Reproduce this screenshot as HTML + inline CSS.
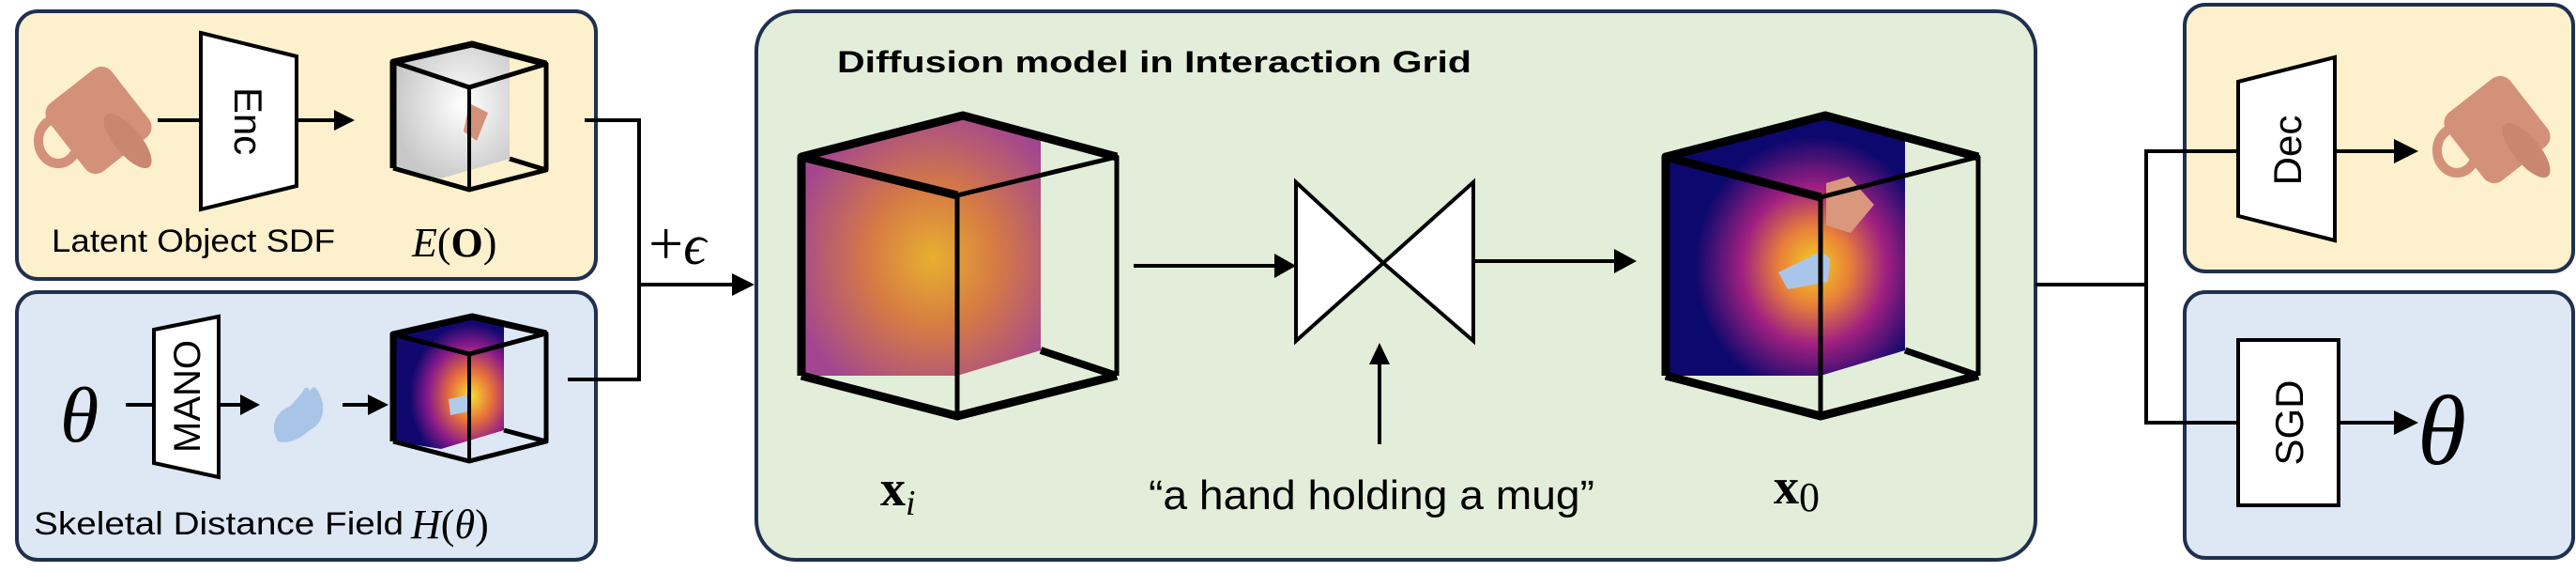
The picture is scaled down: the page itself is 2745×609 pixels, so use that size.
<!DOCTYPE html>
<html><head><meta charset="utf-8"><style>
html,body{margin:0;padding:0;background:#fff;}
svg{display:block;}
text{font-family:"Liberation Sans",sans-serif;}
.s{font-family:"Liberation Serif",serif;}
</style></head><body>
<svg width="2745" height="609" viewBox="0 0 2745 609" xmlns="http://www.w3.org/2000/svg">
<defs>
<radialGradient id="gn" cx="0.55" cy="0.55" r="0.6">
<stop offset="0" stop-color="#e8b030"/><stop offset="0.45" stop-color="#d57a45"/><stop offset="1" stop-color="#a2478f"/>
</radialGradient>
<radialGradient id="g0" cx="0.62" cy="0.58" r="0.5">
<stop offset="0" stop-color="#f5d020"/><stop offset="0.3" stop-color="#e8803a"/><stop offset="0.6" stop-color="#a02080"/><stop offset="1" stop-color="#0c086e"/>
</radialGradient>
<radialGradient id="gh" cx="0.7" cy="0.6" r="0.55">
<stop offset="0" stop-color="#f7e030"/><stop offset="0.35" stop-color="#e8703c"/><stop offset="0.7" stop-color="#8a1a8a"/><stop offset="1" stop-color="#10086e"/>
</radialGradient>
<radialGradient id="gg" cx="0.6" cy="0.45" r="0.6">
<stop offset="0" stop-color="#ffffff"/><stop offset="1" stop-color="#c8c8c8"/>
</radialGradient>
<g id="mug">
<ellipse cx="62" cy="150" rx="21" ry="24" fill="none" stroke="#d4917a" stroke-width="10"/>
<rect x="62" y="82" width="86" height="92" rx="14" transform="rotate(-38 105 128)" fill="#d4917a"/>
<ellipse cx="136" cy="150" rx="14" ry="36" transform="rotate(-40 136 150)" fill="#c98670"/>
</g>
</defs>

<!-- boxes -->
<rect x="18" y="12" width="617" height="285" rx="22" fill="#fdf0cc" stroke="#1f3050" stroke-width="4"/>
<rect x="18" y="311" width="617" height="285" rx="22" fill="#dde8f4" stroke="#1f3050" stroke-width="4"/>
<rect x="806" y="12" width="1363" height="584" rx="42" fill="#e2eed9" stroke="#1f3050" stroke-width="4"/>
<rect x="2328" y="5" width="414" height="284" rx="22" fill="#fdf0cc" stroke="#1f3050" stroke-width="4"/>
<rect x="2328" y="311" width="414" height="283" rx="22" fill="#dde8f4" stroke="#1f3050" stroke-width="4"/>

<!-- top-left -->
<use href="#mug"/>
<line x1="168" y1="128" x2="216" y2="128" stroke="#000" stroke-width="4"/>
<polygon points="214,35 316,60 316,198 214,223" fill="#fff" stroke="#000" stroke-width="4"/>
<text x="0" y="0" font-size="42" transform="translate(250,129) rotate(90)" text-anchor="middle">Enc</text>
<line x1="316" y1="128" x2="358" y2="128" stroke="#000" stroke-width="4"/>
<polygon points="356,117 378,128 356,139" fill="#000"/>
<!-- cube1 -->
<polygon points="419,66 503,47 543,58 543,169 470,190 419,179" fill="url(#gg)"/>
<polygon points="500,110 520,120 508,150 494,140" fill="#d4917a"/>
<g stroke="#000" fill="none" stroke-linejoin="round">
<polyline points="419,179 419,66 503,47 582,68" stroke-width="7"/>
<polyline points="419,66 500,93 582,68 582,181 500,202 419,179" stroke-width="5"/>
<line x1="500" y1="93" x2="500" y2="202" stroke-width="4"/>
<line x1="543" y1="169" x2="582" y2="181" stroke-width="5"/>
</g>
<text x="55" y="268" font-size="34" textLength="302" lengthAdjust="spacingAndGlyphs">Latent Object SDF</text>
<text x="439" y="273" font-size="44" class="s"><tspan font-style="italic">E</tspan>(<tspan font-weight="bold">O</tspan>)</text>

<!-- bottom-left -->
<text x="64" y="470" font-size="84" class="s" font-style="italic">θ</text>
<line x1="134" y1="431" x2="166" y2="431" stroke="#000" stroke-width="4"/>
<polygon points="164,351 233,337 233,508 164,493" fill="#fff" stroke="#000" stroke-width="4"/>
<text x="0" y="0" font-size="40" transform="translate(213,422) rotate(-90)" text-anchor="middle">MANO</text>
<line x1="233" y1="431" x2="258" y2="431" stroke="#000" stroke-width="4"/>
<polygon points="256,420 277,431 256,442" fill="#000"/>
<path d="M292,460 Q290,440 310,432 L322,418 Q326,408 330,416 L334,412 Q340,414 344,430 Q346,450 330,458 Q312,474 296,470 Z" fill="#a8c4e6"/>
<line x1="365" y1="431" x2="394" y2="431" stroke="#000" stroke-width="4"/>
<polygon points="392,420 414,431 392,442" fill="#000"/>
<polygon points="419,356 503,337 537,345 537,458 470,478 419,470" fill="url(#gh)"/>
<polygon points="478,425 502,420 500,438 480,442" fill="#b0cbeb"/>
<g stroke="#000" fill="none" stroke-linejoin="round">
<polyline points="419,470 419,356 503,337 582,355" stroke-width="7"/>
<polyline points="419,356 500,377 582,355 582,470 500,491 419,470" stroke-width="5"/>
<line x1="500" y1="377" x2="500" y2="491" stroke-width="4"/>
<line x1="537" y1="458" x2="582" y2="470" stroke-width="5"/>
</g>
<text x="36" y="569" font-size="34" textLength="394" lengthAdjust="spacingAndGlyphs">Skeletal Distance Field</text>
<text x="438" y="573" font-size="44" class="s"><tspan font-style="italic">H</tspan>(<tspan font-style="italic">θ</tspan>)</text>

<!-- merge connectors -->
<polyline points="623,128 681,128 681,404 605,404" fill="none" stroke="#000" stroke-width="4"/>
<line x1="681" y1="303" x2="782" y2="303" stroke="#000" stroke-width="4"/>
<polygon points="780,291 804,303 780,315" fill="#000"/>
<text x="691" y="281" font-size="66" class="s">+<tspan font-style="italic" font-size="60">ϵ</tspan></text>

<!-- green content -->
<text x="892" y="77" font-size="32" font-weight="bold" textLength="676" lengthAdjust="spacingAndGlyphs">Diffusion model in Interaction Grid</text>
<!-- xi cube -->
<polygon points="854,167 1026,123 1109,145 1109,373 1020,400 854,400" fill="url(#gn)"/>
<g stroke="#000" fill="none" stroke-linejoin="round">
<polyline points="854,400 854,167 1026,123 1190,167" stroke-width="9"/>
<polyline points="854,167 1020,208" stroke-width="9"/>
<polyline points="1020,208 1190,167 1190,400" stroke-width="5"/>
<polyline points="854,400 1020,443 1190,400" stroke-width="9"/>
<line x1="1020" y1="208" x2="1020" y2="443" stroke-width="5"/>
<line x1="1109" y1="373" x2="1190" y2="400" stroke-width="8"/>
</g>
<text x="938" y="538" font-size="54" class="s" font-weight="bold">x<tspan font-size="38" font-style="italic" font-weight="normal" dy="10">i</tspan></text>
<!-- arrow to bowtie -->
<line x1="1208" y1="283" x2="1360" y2="283" stroke="#000" stroke-width="4"/>
<polygon points="1358,270 1381,283 1358,296" fill="#000"/>
<polygon points="1381,194 1381,363 1474,280" fill="#fff" stroke="#000" stroke-width="4" stroke-linejoin="miter"/>
<polygon points="1570,194 1570,363 1474,280" fill="#fff" stroke="#000" stroke-width="4"/>
<line x1="1570" y1="278" x2="1722" y2="278" stroke="#000" stroke-width="4"/>
<polygon points="1720,265 1744,278 1720,291" fill="#000"/>
<line x1="1470" y1="473" x2="1470" y2="385" stroke="#000" stroke-width="4"/>
<polygon points="1459,388 1470,365 1481,388" fill="#000"/>
<text x="1224" y="542" font-size="44" textLength="475" lengthAdjust="spacingAndGlyphs">“a hand holding a mug”</text>
<!-- x0 cube -->
<polygon points="1775,167 1945,123 2030,146 2030,373 1940,400 1775,400" fill="url(#g0)"/>
<polygon points="1946,195 1970,188 1997,218 1972,248 1946,240" fill="#d9977d"/>
<path d="M1895,290 L1940,268 L1950,275 L1948,300 L1905,308 Z" fill="#a9c6ea"/>
<g stroke="#000" fill="none" stroke-linejoin="round">
<polyline points="1775,400 1775,167 1945,123 2108,167" stroke-width="9"/>
<polyline points="1775,167 1940,210" stroke-width="9"/>
<polyline points="1940,210 2108,167 2108,400" stroke-width="5"/>
<polyline points="1775,400 1940,443 2108,400" stroke-width="9"/>
<line x1="1940" y1="210" x2="1940" y2="443" stroke-width="5"/>
<line x1="2030" y1="373" x2="2108" y2="400" stroke-width="7"/>
</g>
<text x="1890" y="536" font-size="54" class="s" font-weight="bold">x<tspan font-size="44" font-weight="normal" dy="8">0</tspan></text>

<!-- right connectors -->
<line x1="2169" y1="303" x2="2287" y2="303" stroke="#000" stroke-width="4"/>
<polyline points="2387,161 2287,161 2287,450 2387,450" fill="none" stroke="#000" stroke-width="4"/>
<polygon points="2385,87 2488,61 2488,256 2385,230" fill="#fff" stroke="#000" stroke-width="4"/>
<text x="0" y="0" font-size="42" transform="translate(2452,160) rotate(-90)" text-anchor="middle">Dec</text>
<line x1="2488" y1="161" x2="2555" y2="161" stroke="#000" stroke-width="4"/>
<polygon points="2551,148 2577,161 2551,174" fill="#000"/>
<use href="#mug" transform="translate(2556,10)"/>
<rect x="2385" y="362" width="107" height="176" fill="#fff" stroke="#000" stroke-width="4"/>
<text x="0" y="0" font-size="42" transform="translate(2454,450) rotate(-90)" text-anchor="middle">SGD</text>
<line x1="2492" y1="450" x2="2555" y2="450" stroke="#000" stroke-width="4"/>
<polygon points="2551,437 2577,450 2551,463" fill="#000"/>
<text x="2576" y="494" font-size="106" class="s" font-style="italic">θ</text>
</svg>
</body></html>
